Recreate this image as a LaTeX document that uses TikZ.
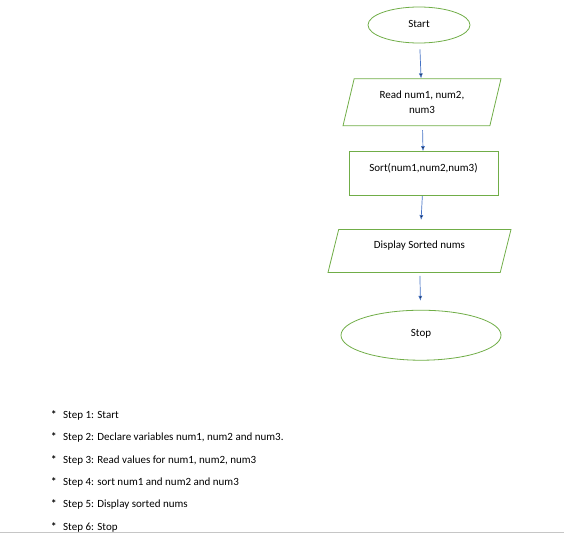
\documentclass[tikz,border=0pt]{standalone}
\usepackage{fontspec}
\setmainfont{Carlito}
\usepackage{tikz}
\usetikzlibrary{positioning, shapes.geometric, arrows.meta}
\definecolor{shapegreen}{HTML}{70AD47}
\definecolor{arrowblue}{HTML}{4472C4}

\begin{document}
\begin{tikzpicture}[x=1pt, y=-1pt,
    term/.style={draw=shapegreen, ellipse, line width=0.8pt, inner sep=1pt,
      font=\fontsize{11}{15}\selectfont},
    io/.style={draw=shapegreen, trapezium, trapezium left angle=76,
      trapezium right angle=104, trapezium stretches body, line width=0.8pt,
      inner xsep=1pt, align=center, font=\fontsize{11}{15}\selectfont},
    proc/.style={draw=shapegreen, rectangle, line width=0.8pt, inner sep=1pt,
      font=\fontsize{11}{15}\selectfont},
    flow/.style={draw=arrowblue, line width=0.7pt, -{Latex[length=5pt, width=4pt]}},
    stepline/.style={anchor=west, inner sep=0pt, font=\fontsize{11}{13}\selectfont}]
  \useasboundingbox (0,0) rectangle (564,533);

  % flowchart
  \node[term, minimum width=102pt, minimum height=36pt, text depth=3pt] (start) at (419,25) {Start};
  \node[io, inner ysep=11pt, minimum width=158pt, minimum height=47pt, below=35pt of start, xshift=3pt] (read) {Read num1, num2,\\num3};
  \node[proc, minimum width=149pt, minimum height=44pt, text height=8pt, text depth=12pt, below=25pt of read, xshift=1.5pt] (sort) {Sort(num1,num2,num3)};
  \node[io, inner ysep=11.5pt, minimum width=183pt, minimum height=43pt, text height=8pt, text depth=12pt, below=33pt of sort, xshift=-4pt] (show) {Display Sorted nums};
  \node[term, minimum width=160pt, minimum height=50pt, text depth=5pt, below=37pt of show, xshift=1.5pt] (stop) {Stop};

  \path[flow]
    (start) edge[shorten <=6pt] (read)
    (read) edge[shorten <=4pt] (sort)
    (sort) edge[shorten >=9pt] (show)
    (show) edge[shorten <=3pt, shorten >=9pt] (stop);

  % algorithm steps
  \node[stepline] (s1) at (51,415) {\makebox[12pt][l]{\textbf{*}}Step 1: Start};
  \node[stepline] (s2) at (51,437) {\makebox[12pt][l]{\textbf{*}}Step 2: Declare variables num1, num2 and num3.};
  \node[stepline] (s3) at (51,460) {\makebox[12pt][l]{\textbf{*}}Step 3: Read values for num1, num2, num3};
  \node[stepline] (s4) at (51,482) {\makebox[12pt][l]{\textbf{*}}Step 4: sort num1 and num2 and num3};
  \node[stepline] (s5) at (51,504) {\makebox[12pt][l]{\textbf{*}}Step 5: Display sorted nums};
  \node[stepline] (s6) at (51,527) {\makebox[12pt][l]{\textbf{*}}Step 6: Stop};

  % page edge
  \coordinate (edgeL) at (0,532);
  \coordinate (edgeR) at (564,532);
  \draw[gray!45, line width=0.8pt] (edgeL) -- (edgeR);
\end{tikzpicture}
\end{document}
